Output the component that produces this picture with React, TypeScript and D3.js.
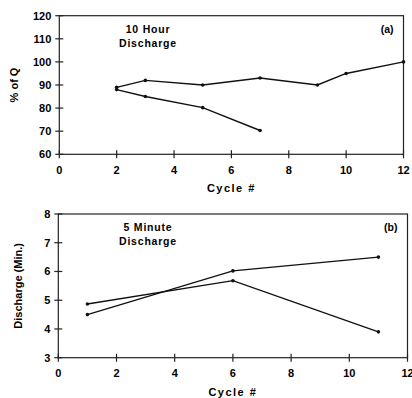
import { useEffect, useRef } from 'react'
import * as d3 from 'd3'

// panel (a): 10 hour discharge, % of Q
const cycleA1 = [2, 3, 5, 7, 9, 10, 12]
const pctA1 = [89, 92, 90, 93, 90, 95, 100]
const cycleA2 = [2, 3, 5, 7]
const pctA2 = [88, 85, 80.2, 70.3]
const yTicksA = [60, 70, 80, 90, 100, 110, 120]

// panel (b): 5 minute discharge, minutes
const cycleB1 = [1, 6, 11]
const minB1 = [4.87, 5.68, 3.9]
const cycleB2 = [1, 6, 11]
const minB2 = [4.5, 6.02, 6.5]
const yTicksB = [3, 4, 5, 6, 7, 8]

const xTicks = [0, 2, 4, 6, 8, 10, 12]

const font = 'Liberation Sans, Arial, sans-serif'

interface Panel {
  left: number
  right: number
  top: number
  bottom: number
  yDomain: [number, number]
  yTicks: number[]
  series: { x: number[]; y: number[] }[]
  yLabel: string
  yLabelX: number
  title: string[]
  tag: string
  xTickY: number
  xLabelY: number
}

function drawPanel(root: d3.Selection<SVGSVGElement, unknown, null, undefined>, p: Panel) {
  const x = d3.scaleLinear().domain([0, 12]).range([p.left, p.right])
  const y = d3.scaleLinear().domain(p.yDomain).range([p.bottom, p.top])
  const g = root.append('g')

  g.append('rect')
    .attr('x', p.left).attr('y', p.top)
    .attr('width', p.right - p.left).attr('height', p.bottom - p.top)
    .attr('fill', 'none').attr('stroke', '#222').attr('stroke-width', 1.2)

  g.selectAll('.yt').data(p.yTicks).enter().append('line')
    .attr('x1', p.left - 4).attr('x2', p.left + 4)
    .attr('y1', d => y(d)).attr('y2', d => y(d))
    .attr('stroke', '#222').attr('stroke-width', 1.2)

  g.selectAll('.ytl').data(p.yTicks).enter().append('text')
    .attr('x', p.left - 8).attr('y', d => y(d) + 4)
    .attr('text-anchor', 'end')
    .style('font-family', font).style('font-weight', 'bold').style('font-size', '11px')
    .text(d => d)

  g.selectAll('.xt').data(xTicks).enter().append('line')
    .attr('x1', d => x(d)).attr('x2', d => x(d))
    .attr('y1', p.bottom - 4).attr('y2', p.bottom + 4)
    .attr('stroke', '#222').attr('stroke-width', 1.2)

  g.selectAll('.xtl').data(xTicks).enter().append('text')
    .attr('x', d => x(d)).attr('y', p.xTickY)
    .attr('text-anchor', 'middle')
    .style('font-family', font).style('font-weight', 'bold').style('font-size', '11px')
    .text(d => d)

  g.append('text')
    .attr('x', (p.left + p.right) / 2).attr('y', p.xLabelY)
    .attr('text-anchor', 'middle')
    .style('font-family', font).style('font-weight', 'bold').style('font-size', '11px')
    .style('letter-spacing', '1.5px')
    .text('Cycle #')

  g.append('text')
    .attr('transform', `translate(${p.yLabelX}, ${(p.top + p.bottom) / 2}) rotate(-90)`)
    .attr('text-anchor', 'middle')
    .style('font-family', font).style('font-weight', 'bold').style('font-size', '11px')
    .text(p.yLabel)

  p.title.forEach((t, i) => {
    g.append('text')
      .attr('x', 148).attr('y', p.top + 17 + i * 14)
      .attr('text-anchor', 'middle')
      .style('font-family', font).style('font-weight', 'bold').style('font-size', '10.5px')
      .style('letter-spacing', '0.8px')
      .text(t)
  })

  g.append('text')
    .attr('x', p.right - 10).attr('y', p.top + 17)
    .attr('text-anchor', 'end')
    .style('font-family', font).style('font-weight', 'bold').style('font-size', '10.5px')
    .text(p.tag)

  const line = d3.line<[number, number]>().x(d => x(d[0])).y(d => y(d[1]))
  p.series.forEach(s => {
    const pts = s.x.map((v, i) => [v, s.y[i]] as [number, number])
    g.append('path').attr('d', line(pts)).attr('fill', 'none')
      .attr('stroke', '#111').attr('stroke-width', 1.4)
    g.selectAll(null).data(pts).enter().append('circle')
      .attr('cx', d => x(d[0])).attr('cy', d => y(d[1])).attr('r', 1.8)
      .attr('fill', '#111')
  })
}

export default function App() {
  const ref = useRef<SVGSVGElement>(null)

  useEffect(() => {
    if (!ref.current) return
    const root = d3.select(ref.current)
    root.selectAll('*').remove()
    root.append('rect').attr('width', 412).attr('height', 398).attr('fill', '#fff')

    drawPanel(root, {
      left: 59.3, right: 403.5, top: 15.7, bottom: 154.3,
      yDomain: [60, 120], yTicks: yTicksA,
      series: [{ x: cycleA1, y: pctA1 }, { x: cycleA2, y: pctA2 }],
      yLabel: '% of Q', yLabelX: 18,
      title: ['10 Hour', 'Discharge'], tag: '(a)',
      xTickY: 174, xLabelY: 192,
    })

    drawPanel(root, {
      left: 58.3, right: 407.5, top: 214, bottom: 357.7,
      yDomain: [3, 8], yTicks: yTicksB,
      series: [{ x: cycleB1, y: minB1 }, { x: cycleB2, y: minB2 }],
      yLabel: 'Discharge (Min.)', yLabelX: 22,
      title: ['5 Minute', 'Discharge'], tag: '(b)',
      xTickY: 377, xLabelY: 396,
    })
  }, [])

  return (
    <svg ref={ref} width={412} height={398}
      style={{ position: 'absolute', left: 0, top: 0 }} />
  )
}
